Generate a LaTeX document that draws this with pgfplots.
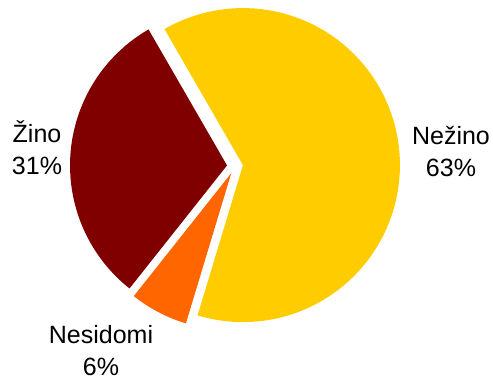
\documentclass[border=0pt]{standalone}
\usepackage{pgfplots}
\pgfplotsset{compat=1.18}
\usepackage{pgfplotstable}
\usepackage{fontspec}
\setmainfont{Liberation Sans}
\definecolor{cYel}{HTML}{FFCC00}
\definecolor{cMar}{HTML}{800000}
\definecolor{cOra}{HTML}{FF6600}
\pgfplotstableread{
label value
Nezino 63
Nesidomi 6
Zino 31
}\piedata
\tikzset{plab/.style={font=\fontsize{25bp}{32bp}\selectfont, align=center, inner sep=0pt}}
\begin{document}
\begin{tikzpicture}
\pgfplotstablegetelem{0}{value}\of\piedata \let\vA\pgfplotsretval
\pgfplotstablegetelem{1}{value}\of\piedata \let\vB\pgfplotsretval
\pgfplotstablegetelem{2}{value}\of\piedata \let\vC\pgfplotsretval
\pgfmathsetmacro{\aA}{120}
\pgfmathsetmacro{\aB}{\aA-3.6*\vA}
\pgfmathsetmacro{\aC}{\aB-3.6*\vB}
\pgfmathsetmacro{\aD}{\aC-3.6*\vC}
\pgfmathsetmacro{\mA}{(\aA+\aB)/2}
\pgfmathsetmacro{\mB}{(\aB+\aC)/2}
\pgfmathsetmacro{\mC}{(\aC+\aD)/2}
\pgfmathsetmacro{\dxA}{8*cos(\mA)}\pgfmathsetmacro{\dyA}{8*sin(\mA)}
\pgfmathsetmacro{\dxB}{8*cos(\mB)}\pgfmathsetmacro{\dyB}{8*sin(\mB)}
\pgfmathsetmacro{\dxC}{8*cos(\mC)}\pgfmathsetmacro{\dyC}{8*sin(\mC)}
\begin{axis}[x=1bp, y=1bp, xmin=-235, xmax=258, ymin=-214, ymax=166,
  hide axis, clip=false, scale only axis]
\addplot[draw=none, fill=cYel, data cs=polar, domain=\aB:\aA, samples=150,
  xshift=\dxA bp, yshift=\dyA bp] ({x},{157}) -- (axis cs:0,0) -- cycle;
\addplot[draw=none, fill=cOra, data cs=polar, domain=\aC:\aB, samples=30,
  xshift=\dxB bp, yshift=\dyB bp] ({x},{157}) -- (axis cs:0,0) -- cycle;
\addplot[draw=none, fill=cMar, data cs=polar, domain=\aD:\aC, samples=80,
  xshift=\dxC bp, yshift=\dyC bp] ({x},{157}) -- (axis cs:0,0) -- cycle;
\node[plab] at (axis cs:216,14) {Nežino\\63\%};
\node[plab] at (axis cs:-198,18) {Žino\\31\%};
\node[plab] at (axis cs:-134,-185) {Nesidomi\\6\%};
\end{axis}
\pgfresetboundingbox
\path (current axis.south west) rectangle (current axis.north east);
\end{tikzpicture}
\end{document}
